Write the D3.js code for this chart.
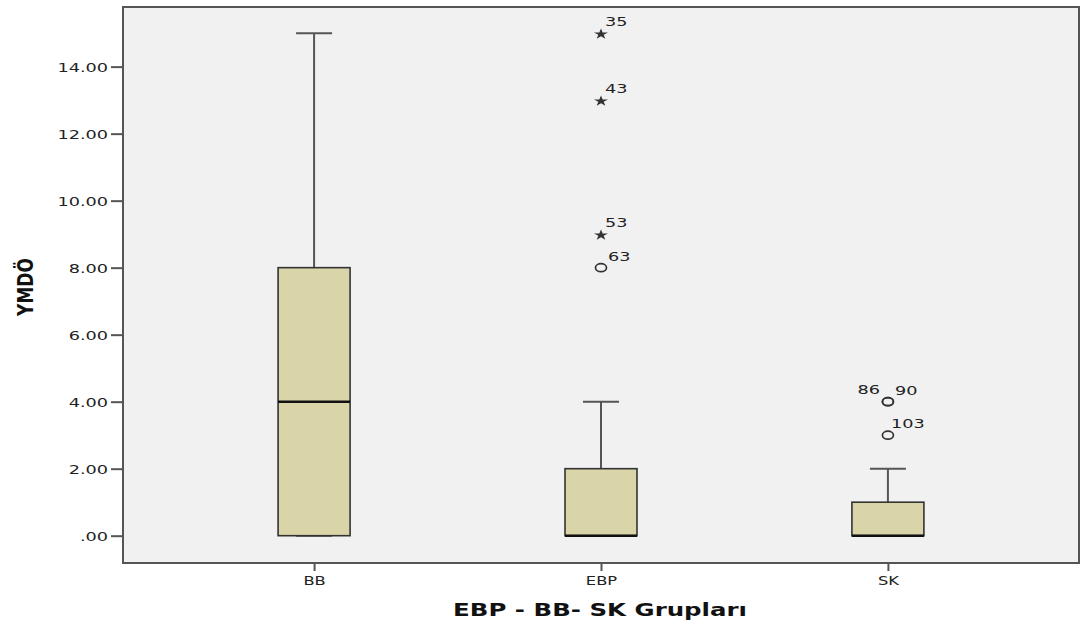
<!DOCTYPE html>
<html><head><meta charset="utf-8">
<script src="https://cdn.jsdelivr.net/npm/d3@7"></script>
<style>html,body{margin:0;padding:0;background:#fff;}svg{display:block;}</style>
</head><body>
<script>
const categories = ["BB", "EBP", "SK"];
const q1Values = [0, 0, 0];
const medianValues = [4, 0, 0];
const q3Values = [8, 2, 1];
const whiskerLow = [0, 0, 0];
const whiskerHigh = [15, 4, 2];
const outlierGroup = ["EBP", "EBP", "EBP", "EBP", "SK", "SK", "SK"];
const outlierValue = [15, 13, 9, 8, 4, 4, 3];
const outlierId = ["35", "43", "53", "63", "86", "90", "103"];
const outlierKind = ["extreme", "extreme", "extreme", "mild", "mild", "mild", "mild"];
const yTickValues = [0, 2, 4, 6, 8, 10, 12, 14];
const xTitle = "EBP - BB- SK Grupları";
const yTitle = "YMDÖ";

const W = 1080, H = 631;
const L = 123, R = 1079, T = 7, B = 563;
const SX = 1.36; // horizontal stretch of text
const svg = d3.select("body").append("svg").attr("width", W).attr("height", H);

const x = d3.scalePoint().domain(categories).range([L, R]).padding(0.666);
const y = d3.scaleLinear().domain([-0.815, 15.78]).range([B, T]);

svg.append("rect").attr("x", L).attr("y", T).attr("width", R - L).attr("height", B - T)
  .attr("fill", "#f1f1f1");

function stext(g, tx, ty, str, opts) {
  const t = g.append("text")
    .attr("transform", `translate(${tx},${ty}) scale(${SX},1)`)
    .attr("font-family", opts.family || "DejaVu Sans")
    .attr("font-size", opts.size)
    .attr("font-weight", opts.weight || "normal")
    .attr("text-anchor", opts.anchor || "start")
    .attr("fill", opts.fill || "#222")
    .text(str);
  return t;
}

// y axis ticks
const yAxis = d3.axisLeft(y).tickValues(yTickValues).tickSize(12).tickPadding(0).tickFormat("");
const yg = svg.append("g").attr("transform", `translate(${L},0)`).call(yAxis);
yg.select(".domain").remove();
yg.selectAll(".tick line").attr("stroke", "#555").attr("stroke-width", 2);
yg.selectAll(".tick").each(function(d) {
  const s = d3.format(".2f")(d).replace(/^0\./, ".");
  stext(d3.select(this), -15, 5, s, {size: 13, anchor: "end"});
});

// x axis ticks
const xAxis = d3.axisBottom(x).tickSize(8).tickFormat("");
const xg = svg.append("g").attr("transform", `translate(0,${B})`).call(xAxis);
xg.select(".domain").remove();
xg.selectAll(".tick line").attr("stroke", "#555").attr("stroke-width", 2);
xg.selectAll(".tick").each(function(d) {
  stext(d3.select(this), 0, 22, d, {size: 12, anchor: "middle"});
});

// boxes
const boxW = 72, capW = 36;
const rows = categories.map((c, i) => ({c, q1: q1Values[i], med: medianValues[i], q3: q3Values[i], lo: whiskerLow[i], hi: whiskerHigh[i]}));
const bg = svg.append("g");
rows.forEach(r => {
  const cx = x(r.c);
  const g = bg.append("g");
  g.append("line").attr("x1", cx).attr("x2", cx).attr("y1", y(r.q3)).attr("y2", y(r.hi))
    .attr("stroke", "#555").attr("stroke-width", 2);
  g.append("line").attr("x1", cx - capW / 2).attr("x2", cx + capW / 2).attr("y1", y(r.hi)).attr("y2", y(r.hi))
    .attr("stroke", "#555").attr("stroke-width", 2);
  g.append("line").attr("x1", cx).attr("x2", cx).attr("y1", y(r.q1)).attr("y2", y(r.lo))
    .attr("stroke", "#555").attr("stroke-width", 2);
  g.append("line").attr("x1", cx - capW / 2).attr("x2", cx + capW / 2).attr("y1", y(r.lo)).attr("y2", y(r.lo))
    .attr("stroke", "#555").attr("stroke-width", 2);
  g.append("rect").attr("x", cx - boxW / 2).attr("y", y(r.q3)).attr("width", boxW).attr("height", y(r.q1) - y(r.q3))
    .attr("fill", "#d9d5a8").attr("stroke", "#333").attr("stroke-width", 1.6);
  g.append("line").attr("x1", cx - boxW / 2).attr("x2", cx + boxW / 2).attr("y1", y(r.med)).attr("y2", y(r.med))
    .attr("stroke", "#111").attr("stroke-width", 2.5);
});

// outliers
const outs = outlierValue.map((v, i) => ({g: outlierGroup[i], v, id: outlierId[i], kind: outlierKind[i]}));
const og = svg.append("g");
outs.forEach((o, i) => {
  const cx = x(o.g), cy = y(o.v);
  if (o.kind === "extreme") {
    og.append("path").attr("d", d3.symbol().type(d3.symbolStar).size(36)())
      .attr("transform", `translate(${cx},${cy + 1}) scale(1.3,1)`).attr("fill", "#333");
  } else {
    og.append("ellipse").attr("cx", cx).attr("cy", cy).attr("rx", 5.5).attr("ry", 4)
      .attr("fill", "none").attr("stroke", "#333").attr("stroke-width", 1.7);
  }
  const tiedBefore = outs.slice(0, i).filter(p => p.g === o.g && p.v === o.v).length;
  const tiedAfter = outs.slice(i + 1).filter(p => p.g === o.g && p.v === o.v).length;
  if (tiedAfter > 0 && tiedBefore === 0) {
    stext(og, cx - 8, cy - 8, o.id, {size: 13, anchor: "end"});
  } else {
    const dx = o.kind === "extreme" ? 4 : (tiedBefore > 0 ? 7 : 3 + (o.id.length < 3 ? 4 : 0));
    stext(og, cx + dx, cy - 7, o.id, {size: 13, anchor: "start"});
  }
});

// frame
svg.append("path").attr("d", `M${L},${T}H${R}V${B}H${L}Z`).attr("fill", "none")
  .attr("stroke", "#555").attr("stroke-width", 2);

// titles
stext(svg, 600, 616, xTitle, {size: 18, weight: "bold", anchor: "middle", fill: "#111"});
svg.append("text").attr("transform", "translate(33,287) rotate(-90) scale(1,1.25)")
  .attr("font-family", "DejaVu Sans").attr("font-size", 17).attr("font-weight", "bold")
  .attr("text-anchor", "middle").attr("fill", "#111").text(yTitle);
</script>
</body></html>
